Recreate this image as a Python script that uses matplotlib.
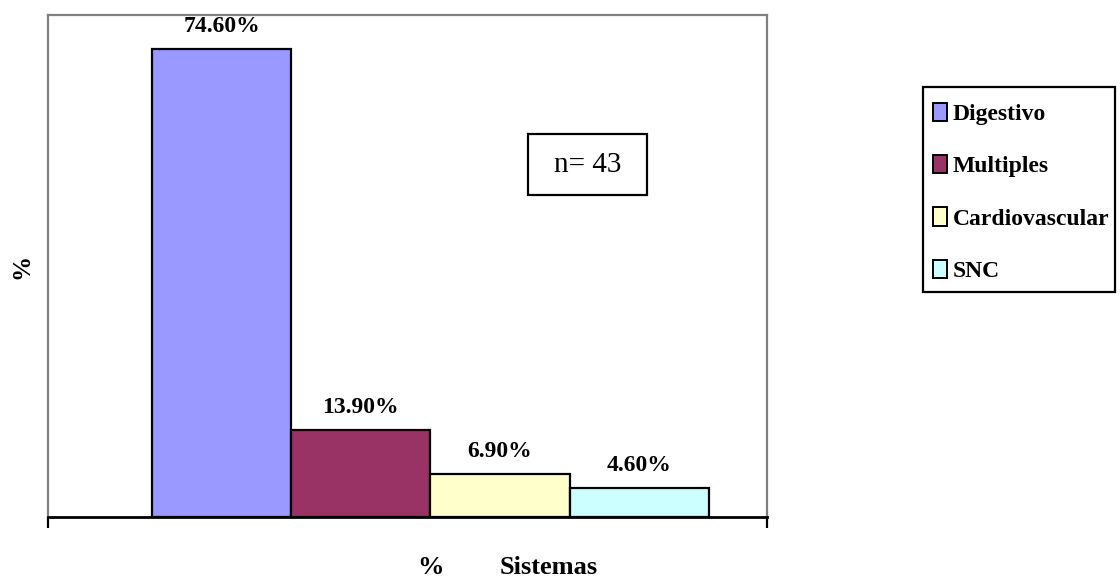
import matplotlib
matplotlib.use("Agg")
import matplotlib.pyplot as plt
from matplotlib.patches import Rectangle, Patch

plt.rcParams['font.family'] = ['Liberation Serif', 'DejaVu Serif']

categorias = ["Digestivo", "Multiples", "Cardiovascular", "SNC"]
porcentajes = [74.6, 13.9, 6.9, 4.6]
colores = ["#9999FF", "#993366", "#FFFFCC", "#CCFFFF"]
n_total = 43

W, H = 1120, 584
fig = plt.figure(figsize=(W / 100, H / 100), dpi=100)
ax = fig.add_axes([48 / W, 1 - 517 / H, (767 - 48) / W, (517 - 15) / H])

x = list(range(len(categorias)))
bars = ax.bar(x, porcentajes, width=1.0, color=colores, edgecolor="black", linewidth=1.6)

for xi, v in zip(x, porcentajes):
    ax.annotate(f"{v:.2f}%", (xi, v), xytext=(0, 12), textcoords="offset points",
                ha="center", va="baseline", fontsize=17, fontweight="bold")

ax.set_xlim(-1.25, 3.92)
ax.set_ylim(0, 80)
ax.set_yticks([])
ax.set_xticks([-1.25, 3.92])
ax.set_xticklabels([])
ax.tick_params(axis="x", direction="out", length=8, width=1.6, color="black")
for s in ["top", "left", "right"]:
    ax.spines[s].set_color("#808080")
    ax.spines[s].set_linewidth(1.6)
ax.spines["bottom"].set_color("black")
ax.spines["bottom"].set_linewidth(2)
ax.spines["bottom"].set_zorder(5)

# axis titles
fig.text(22 / W, 1 - 266 / H, "%", rotation=90, ha="center", va="center",
         fontsize=18, fontweight="bold")
fig.text(430 / W, 1 - 568 / H, "%", ha="center", va="center", fontsize=19, fontweight="bold")
fig.text(549 / W, 1 - 568 / H, "Sistemas", ha="center", va="center", fontsize=19, fontweight="bold")

# n box
fig.patches.append(Rectangle((528 / W, 1 - 195 / H), 119 / W, 61 / H, transform=fig.transFigure,
                             facecolor="white", edgecolor="black", linewidth=1.6, zorder=3))
fig.text(587.5 / W, 1 - 165 / H, f"n= {n_total}", ha="center", va="center", fontsize=21, zorder=4)

# legend: frame drawn separately so it hugs the text like the original
fig.patches.append(Rectangle((923 / W, 1 - 292 / H), 192 / W, 205 / H, transform=fig.transFigure,
                             facecolor="white", edgecolor="black", linewidth=1.6, zorder=1))
handles = [Patch(facecolor=c, edgecolor="black", linewidth=1.4) for c in colores]
leg = fig.legend(handles, categorias, loc="upper left", bbox_to_anchor=(933 / W, 1 - 103 / H),
                 prop={"size": 17, "weight": "bold"}, frameon=False,
                 handlelength=0.6, handleheight=0.8, handletextpad=0.25,
                 labelspacing=1.27, borderpad=0, borderaxespad=0)
leg.set_zorder(5)

fig.savefig("out.png", dpi=100)
